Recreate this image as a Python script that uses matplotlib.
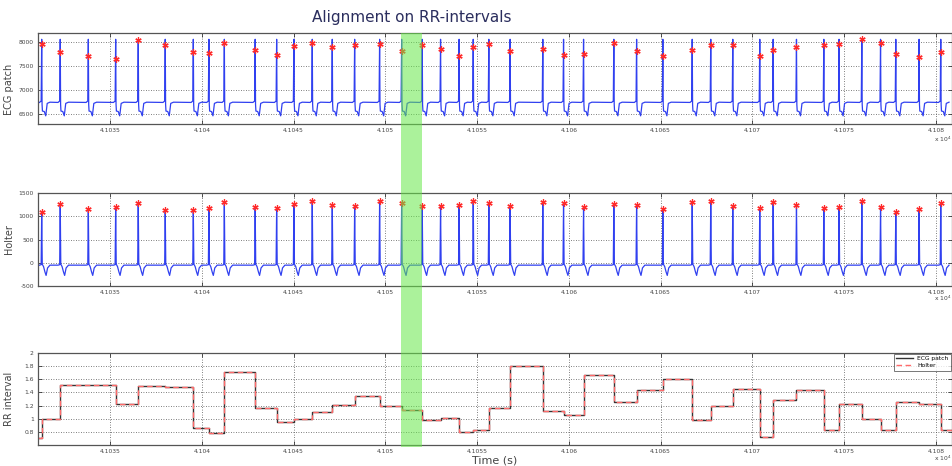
import numpy as np
import matplotlib.pyplot as plt
from matplotlib.patches import Rectangle
from matplotlib.transforms import blended_transform_factory
from matplotlib.ticker import FuncFormatter

# R-peak times (s) of the beats shown in the window
beat_t = [41031.28, 41032.29, 41033.82, 41035.31, 41036.54, 41038.01, 41039.54,
          41040.39, 41041.23, 41042.91, 41044.08, 41045.02, 41046.02, 41047.11,
          41048.33, 41049.69, 41050.89, 41052.01, 41053.01, 41054.02, 41054.79,
          41055.64, 41056.80, 41058.58, 41059.71, 41060.80, 41062.45, 41063.69,
          41065.12, 41066.72, 41067.73, 41068.93, 41070.40, 41071.13, 41072.40,
          41073.89, 41074.72, 41075.96, 41076.98, 41077.81, 41079.08, 41080.26]
prev_beat = 41030.58

# detected R-peak amplitudes
patch_peaks = [7970, 7800, 7710, 7640, 8050, 7940, 7800, 7770, 7990, 7840, 7730,
               7930, 7990, 7900, 7950, 7970, 7810, 7940, 7860, 7710, 7900, 7970,
               7810, 7860, 7730, 7750, 7990, 7810, 7720, 7840, 7940, 7940, 7720,
               7840, 7900, 7940, 7970, 8060, 7990, 7750, 7700, 7790]
holter_peaks = [1090, 1260, 1150, 1200, 1280, 1130, 1130, 1180, 1300, 1200, 1180,
                1260, 1330, 1240, 1230, 1320, 1280, 1230, 1220, 1250, 1320, 1280,
                1220, 1300, 1280, 1190, 1270, 1250, 1160, 1300, 1330, 1210, 1180,
                1300, 1250, 1180, 1200, 1320, 1190, 1090, 1160, 1280]

# RR intervals (s), one per beat-to-beat segment, first from prev_beat
patch_rr = [0.70, 1.00, 1.51, 1.51, 1.22, 1.50, 1.48, 0.86, 0.79, 1.71, 1.17,
            0.95, 1.00, 1.10, 1.21, 1.35, 1.20, 1.13, 0.98, 1.01, 0.80, 0.83,
            1.16, 1.80, 1.12, 1.06, 1.67, 1.26, 1.43, 1.61, 0.98, 1.20, 1.45,
            0.72, 1.29, 1.44, 0.83, 1.23, 1.00, 0.83, 1.26, 1.22, 0.83]
holter_rr = [0.70, 1.00, 1.51, 1.51, 1.22, 1.50, 1.48, 0.86, 0.79, 1.71, 1.17,
             0.95, 1.00, 1.10, 1.21, 1.35, 1.20, 1.13, 0.98, 1.01, 0.80, 0.83,
             1.16, 1.80, 1.12, 1.06, 1.67, 1.26, 1.43, 1.61, 0.98, 1.20, 1.45,
             0.72, 1.29, 1.44, 0.83, 1.23, 1.00, 0.83, 1.26, 1.22, 0.83]

# single-beat waveform shapes: time offset from R peak, level (None = peak)
patch_off = [-0.12, -0.03, 0.0, 0.02, 0.04, 0.14, 0.22, 0.30, 0.45]
patch_lev = [6740, 6770, None, 6700, 6560, 6550, 6460, 6720, 6745]
patch_top = 8060
holter_off = [-0.12, -0.03, 0.0, 0.03, 0.10, 0.18, 0.24, 0.32, 0.45]
holter_lev = [-50, -40, None, -30, -80, -200, -270, -110, -50]

band = (41050.85, 41052.0)
t_lo, t_hi = 41031.08, 41080.87
x_ticks = [41035, 41040, 41045, 41050, 41055, 41060, 41065, 41070, 41075, 41080]


def trace(times, peaks, offsets, levels):
    xs, ys = [], []
    for t, p in zip(times, peaks):
        for off, lev in zip(offsets, levels):
            xs.append(t + off)
            ys.append(p if lev is None else lev)
    return xs, ys


def style(ax, yticks):
    ax.set_xlim(t_lo, t_hi)
    ax.set_xticks(x_ticks)
    ax.set_yticks(yticks)
    ax.xaxis.set_major_formatter(FuncFormatter(lambda v, p: f'{v / 1e4:g}'))
    ax.yaxis.set_major_formatter(FuncFormatter(lambda v, p: f'{v:g}'))
    ax.tick_params(direction='in', top=True, right=True, length=3, width=0.6,
                   labelsize=4.3, labelcolor='#444', color='#333', pad=3)
    ax.grid(True, ls=(0, (1, 2)), color='#555', lw=0.6)
    for s in ax.spines.values():
        s.set_color('#555')
        s.set_linewidth(0.9)


fig = plt.figure(figsize=(9.53, 4.66), dpi=100)
ax1 = fig.add_axes([0.0399, 0.734, 0.959, 0.195])
ax2 = fig.add_axes([0.0399, 0.386, 0.959, 0.200])
ax3 = fig.add_axes([0.0399, 0.045, 0.959, 0.1975])

# ECG patch
xs, ys = trace(beat_t, [patch_top] * len(beat_t), patch_off, patch_lev)
ax1.plot(xs, ys, color='#3040f0', lw=0.9)
ax1.plot(beat_t, patch_peaks, ls='none', marker=(6, 2, 0), ms=4.5,
         mec='#ff2a2a', mew=0.9)
ax1.set_ylim(6290, 8190)
style(ax1, [6500, 7000, 7500, 8000])
ax1.set_ylabel('ECG patch', fontsize=7, color='#444')
ax1.yaxis.set_label_coords(-0.026, 0.38)

# Holter
xs, ys = trace(beat_t, holter_peaks, holter_off, holter_lev)
ax2.plot(xs, ys, color='#3040f0', lw=0.9)
ax2.plot(beat_t, holter_peaks, ls='none', marker=(6, 2, 0), ms=4.5,
         mec='#ff2a2a', mew=0.9)
ax2.set_ylim(-500, 1500)
style(ax2, [-500, 0, 500, 1000, 1500])
ax2.set_ylabel('Holter', fontsize=7, color='#444')
ax2.yaxis.set_label_coords(-0.026, 0.5)

# RR intervals
rr_x = [prev_beat] + beat_t + [t_hi]
ax3.step(rr_x, patch_rr + [patch_rr[-1]], where='post', color='#333', lw=1.0,
         label='ECG patch')
ax3.step(rr_x, holter_rr + [holter_rr[-1]], where='post', color='#ff6a6a',
         lw=1.0, ls=(0, (4, 2.5)), label='Holter')
ax3.set_ylim(0.6, 2.0)
style(ax3, [0.8, 1.0, 1.2, 1.4, 1.6, 1.8, 2.0])
ax3.set_ylabel('RR interval', fontsize=7, color='#444')
ax3.yaxis.set_label_coords(-0.026, 0.5)
ax3.set_xlabel('Time (s)', fontsize=8, color='#444', labelpad=1)
leg = ax3.legend(loc='upper right', fontsize=4.3, borderaxespad=0.15,
                 fancybox=False, edgecolor='#555', handlelength=2.8,
                 borderpad=0.4, labelspacing=0.3)
leg.get_frame().set_linewidth(0.7)

for ax, dy in ((ax1, -0.17), (ax2, -0.13), (ax3, -0.14)):
    ax.text(1.0, dy, r'x 10$^4$', transform=ax.transAxes, ha='right',
            va='center', fontsize=4.3, color='#444')

# highlighted RR segment across all three panels
tr = blended_transform_factory(ax1.transData, fig.transFigure)
fig.patches.append(Rectangle((band[0], 1 - 447 / 466), band[1] - band[0],
                             (447 - 33) / 466, transform=tr, color='#66e84a',
                             alpha=0.55, lw=0, zorder=10))

fig.text(0.432, 0.963, 'Alignment on RR-intervals', ha='center', va='center',
         fontsize=11, color='#2b2e5e')

fig.savefig('out.png', dpi=100)
